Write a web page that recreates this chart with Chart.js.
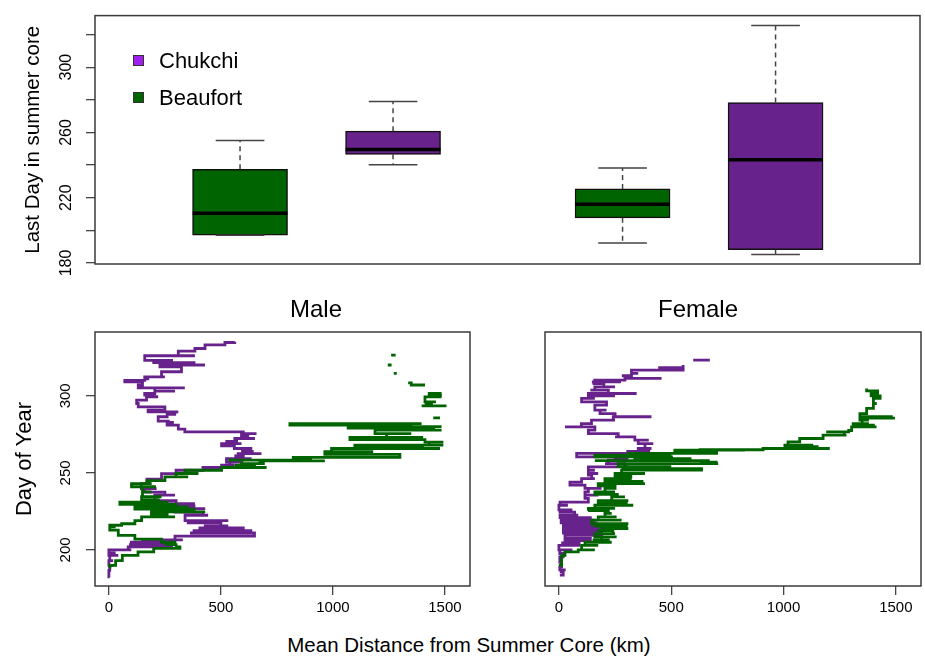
<!DOCTYPE html>
<html>
<head>
<meta charset="utf-8">
<script src="https://cdn.jsdelivr.net/npm/chart.js@4.4.1/dist/chart.umd.min.js"></script>
<style>
  html, body { margin: 0; padding: 0; background: #fff; }
  body { width: 925px; height: 659px; position: relative; overflow: hidden; font-family: "Liberation Sans", Arial, sans-serif; }
  .panel { position: absolute; }
  .lbl { position: absolute; color: #000; white-space: nowrap; line-height: 1; }
  .sq { position: absolute; width: 9px; height: 9px; border: 1px solid #333; }
</style>
</head>
<body>
<div class="panel" style="left:0;top:0;width:925px;height:290px"><canvas id="boxChart"></canvas></div>
<div class="panel" style="left:0;top:290px;width:480px;height:330px"><canvas id="maleChart"></canvas></div>
<div class="panel" style="left:480px;top:290px;width:445px;height:330px"><canvas id="femaleChart"></canvas></div>

<div class="sq" style="left:133px;top:55px;background:#A020F0"></div>
<div class="lbl" style="left:159px;top:50px;font-size:22px">Chukchi</div>
<div class="sq" style="left:133px;top:92px;background:#006400"></div>
<div class="lbl" style="left:159px;top:87px;font-size:22px">Beaufort</div>

<div class="lbl" style="left:216px;top:297px;width:200px;text-align:center;font-size:24px">Male</div>
<div class="lbl" style="left:598px;top:297px;width:200px;text-align:center;font-size:24px">Female</div>
<div class="lbl" style="left:219px;top:635px;width:500px;text-align:center;font-size:20.5px">Mean Distance from Summer Core (km)</div>

<script>
document.addEventListener('DOMContentLoaded', () => {
    Chart.defaults.font.family = '"Liberation Sans", Arial, sans-serif';
    Chart.defaults.color = '#000';

    const green = '#006400';
    const purple = '#68228B';

    // Top box plot: Male Beaufort, Male Chukchi, Female Beaufort, Female Chukchi
    const boxPositions = [1, 2, 3.5, 4.5];
    const boxColors = [green, purple, green, purple];
    const lowWhisker = [197, 240.2, 192.2, 185.2];
    const lowerQuartile = [197, 246.6, 207.7, 188.2];
    const medians = [210.5, 249.6, 216, 243.2];
    const upperQuartile = [237.4, 260.8, 225.4, 278.3];
    const highWhisker = [255, 279, 238.2, 325.5];
    const boxTicks = [180, 200, 220, 240, 260, 280, 300, 320];
    const boxTickLabels = ['180', '', '220', '', '260', '', '300', ''];

    // Bottom panels: rows of [day, distance from, distance to]; null = gap
    const maleChukchi = [
        [182.5, 4, 4], [186.8, 0, 10], [190, 4, 20], [193, 0, 19], [196.5, 4, 42], [198, 0, 30], [200, 0, 100],
        [202, 86, 280], [203.5, 280, 90], [205, 100, 270], [206.5, 150, 330], [209, 295, 533], [211, 650, 362],
        [212.5, 380, 640], [214.3, 600, 400], [215.6, 430, 533], [217.5, 500, 380], [219, 354, 533], [222.5, 340, 443],
        [224.5, 420, 300], [226.8, 295, 430], [228.5, 380, 230], [230, 220, 384], [232, 300, 200], [235.5, 205, 295],
        [237.5, 250, 165], [239.8, 160, 213], [243, 145, 190], [246, 170, 200], [249.5, 235, 280], [251.7, 300, 384],
        [253.5, 420, 480], [255, 503, 560], [257, 540, 600], [259.3, 525, 637], [261, 600, 560], [262.5, 577, 681],
        [264, 640, 590], [265.8, 600, 640], [267.5, 560, 520], [269, 503, 592], [270.5, 570, 520], [272.3, 562, 652],
        [274, 620, 600], [275.5, 592, 659], [276.6, 600, 384], [278.4, 339, 339], [281, 310, 310], [282.7, 260, 290],
        [283.6, 265, 265], [286.4, 220, 220], [288, 260, 300], [289.6, 295, 310], [290.7, 175, 175], [292.8, 250, 250],
        [295, 131, 131], [297.2, 124, 140], [299.4, 168, 220], [300.5, 200, 170], [301.5, 160, 200], [303, 205, 295],
        [305.2, 205, 339], [307, 131, 131], [309, 150, 150], [310, 71, 100], [311, 160, 180], [312.3, 160, 250],
        [315.6, 235, 235], [318.8, 324, 324], [320, 228, 429], [321.5, 380, 250], [322, 200, 280], [323, 280, 200],
        [326, 160, 384], [329, 310, 310], [330.7, 384, 384], [333, 429, 429], [334.6, 518, 518], [335, 562, 562]
    ];
    const maleBeaufort = [
        [188, 4, 4], [190, 4, 20], [193, 30, 50], [196.5, 60, 101], [198.7, 130, 175], [201, 200, 280], [202, 317, 317],
        [203.5, 300, 250], [205, 295, 295], [207, 235, 235], [209.5, 116, 116], [212.8, 42, 42], [215, 4, 30], [216, 4, 4],
        [217, 57, 57], [219, 116, 116], [221.5, 146, 295], [223, 260, 190], [224.7, 190, 430], [226.5, 380, 150],
        [228, 116, 354], [229.5, 300, 100], [231, 49, 265], [232.5, 220, 150], [234.5, 146, 235], [237.7, 150, 190],
        [241, 150, 210], [243, 101, 190], [245, 170, 250], [247.4, 250, 354], [249.6, 300, 400], [251.7, 340, 503],
        [253.5, 503, 704], [255, 650, 560], [256, 592, 696], [257.8, 674, 964], [258.3, 900, 533], [260, 823, 1024],
        [262, 1299, 972], [263.7, 964, 1180], [265.8, 994, 1478], [267, 1400, 1100], [268, 1098, 1493], [270, 1430, 1493],
        [271.6, 1411, 1240], [273, 1076, 1403], [275.5, 1240, 1350], [277.7, 1188, 1485], [279, 1450, 1100],
        [280, 1068, 1485], [281, 1350, 900], [282, 808, 1396],
        null,
        [285.7, 1448, 1478],
        null,
        [293.5, 1396, 1507], [294.5, 1440, 1410], [296, 1420, 1460], [299.3, 1411, 1485], [300.5, 1480, 1430], [301.5, 1430, 1485],
        null,
        [307, 1411, 1373], [308.4, 1350, 1336],
        null,
        [314.5, 1272, 1285],
        null,
        [320, 1245, 1262],
        null,
        [326.4, 1260, 1280]
    ];
    const femaleChukchi = [
        [183.6, 4, 4], [185.7, 19, 19], [187, 10, 30], [189, 4, 4], [192, 12, 12], [195.5, 4, 4], [197.7, 19, 30],
        [200, 4, 60], [203, 0, 86], [204.5, 90, 10], [206, 27, 130], [207.5, 140, 30], [209.5, 27, 197], [211, 190, 25],
        [212.8, 20, 190], [214.5, 185, 20], [216, 20, 175], [217.5, 165, 15], [219.3, 10, 160], [221, 140, 5],
        [222.5, 5, 86], [224.5, 70, 5], [226, 5, 60], [229, 0, 40], [231, 5, 131], [233.4, 131, 131], [235.5, 116, 175],
        [237.7, 116, 116], [240, 131, 190], [242, 116, 71], [244, 49, 49], [246.3, 101, 160], [248.5, 146, 146],
        [249.6, 131, 175], [251.7, 131, 160], [253.9, 131, 309], [256, 294, 205], [258.3, 220, 290], [259.3, 260, 309],
        [260.4, 250, 100], [262.6, 79, 412], [264, 400, 300], [265.8, 353, 412], [269, 383, 420], [271.2, 353, 400],
        [273.4, 338, 250], [275.5, 264, 131], [277.7, 131, 160], [279.9, 160, 27], [282, 100, 145], [284.2, 145, 250],
        [286.4, 242, 412], [288.5, 250, 190], [290.7, 183, 212], [294, 160, 200], [296.1, 212, 116], [298.3, 101, 160],
        [300, 150, 250], [301.5, 131, 346], [303.7, 220, 140], [305.8, 160, 250], [308, 200, 150], [309, 153, 264],
        [310.2, 270, 153], [311.3, 294, 457], [313, 300, 280], [314.5, 323, 353], [316.7, 323, 546], [318.2, 553, 442],
        [320, 553, 553],
        null,
        [323.2, 598, 672]
    ];
    const femaleBeaufort = [
        [190, 0, 12], [193, 12, 12], [196.5, 12, 27], [198.8, 27, 86], [200, 86, 160], [203, 101, 175], [205, 116, 235],
        [206.5, 220, 150], [208.5, 190, 257], [210.6, 160, 250], [212.5, 240, 170], [213.9, 190, 309], [215.5, 300, 160],
        [217, 160, 309], [219.3, 146, 279], [221.5, 175, 257], [223.7, 205, 235], [225.5, 220, 130], [226.9, 131, 250],
        [229, 160, 331], [230.5, 300, 175], [232, 175, 309], [234.4, 235, 294], [236, 260, 200], [237.7, 160, 250],
        [240, 205, 250], [241.5, 250, 175], [243, 175, 383], [244.5, 370, 220], [246.3, 205, 324], [248, 320, 250],
        [249.6, 250, 383], [251.8, 279, 605], [252.8, 635, 279], [254, 300, 500], [256, 264, 709], [257, 700, 628],
        [258, 665, 160], [259.3, 338, 590], [260.4, 501, 160], [261.5, 160, 501], [262.6, 309, 694], [263.6, 702, 628],
        [264.7, 516, 828], [265, 628, 909], [265.8, 909, 1206], [267, 1150, 1006], [268, 1006, 1132], [270.1, 1020, 1060],
        [272.3, 1072, 1176], [274.5, 1176, 1280], [276.6, 1270, 1190], [277.5, 1290, 1300], [279.9, 1303, 1414],
        [281, 1400, 1330], [282, 1310, 1380], [284.2, 1350, 1380], [285.5, 1340, 1496], [286.4, 1480, 1340],
        [288.5, 1340, 1370], [291.8, 1370, 1400], [295, 1400, 1415], [298.3, 1400, 1436], [300, 1430, 1410],
        [301.5, 1390, 1425], [303.2, 1400, 1425], [304.7, 1370, 1370]
    ];
    const distTicks = [0, 500, 1000, 1500];
    const dayTicks = [200, 250, 300];

    // box around every plot area, like R's box()
    const framePlugin = {
        id: 'frame',
        afterDraw(chart) {
            const {ctx, chartArea: a} = chart;
            ctx.save();
            ctx.strokeStyle = '#3a3a3a';
            ctx.lineWidth = 1.5;
            ctx.strokeRect(a.left, a.top, a.right - a.left, a.bottom - a.top);
            ctx.restore();
        }
    };

    const gridStyle = { drawOnChartArea: false, drawTicks: true, tickLength: 9, color: '#444', lineWidth: 1.3 };

    // ---- top: box plot ----
    const halfBox = 0.31, halfCap = 0.159;
    const dashed = [], caps = [], medianLines = [];
    boxPositions.forEach((p, i) => {
        dashed.push({x: p, y: upperQuartile[i]}, {x: p, y: highWhisker[i]}, {x: null, y: null});
        dashed.push({x: p, y: lowerQuartile[i]}, {x: p, y: lowWhisker[i]}, {x: null, y: null});
        caps.push({x: p - halfCap, y: highWhisker[i]}, {x: p + halfCap, y: highWhisker[i]}, {x: null, y: null});
        caps.push({x: p - halfCap, y: lowWhisker[i]}, {x: p + halfCap, y: lowWhisker[i]}, {x: null, y: null});
        medianLines.push({x: p - halfBox, y: medians[i]}, {x: p + halfBox, y: medians[i]}, {x: null, y: null});
    });

    new Chart(document.getElementById('boxChart'), {
        type: 'bar',
        data: {
            datasets: [
                {
                    type: 'bar', order: 3,
                    data: boxPositions.map((p, i) => ({x: p, y: [lowerQuartile[i], upperQuartile[i]]})),
                    backgroundColor: boxColors, borderColor: '#111', borderWidth: 1.5,
                    borderSkipped: false, barThickness: 95
                },
                { type: 'line', order: 2, data: dashed, borderColor: '#444', borderWidth: 1.5, borderDash: [5, 4], pointRadius: 0, spanGaps: false },
                { type: 'line', order: 1, data: caps, borderColor: '#444', borderWidth: 1.5, pointRadius: 0, spanGaps: false },
                { type: 'line', order: 0, data: medianLines, borderColor: '#000', borderWidth: 3.5, pointRadius: 0, spanGaps: false }
            ]
        },
        options: {
            responsive: true, maintainAspectRatio: false, animation: false,
            layout: { padding: { left: 0, top: 10, right: 5, bottom: 26 } },
            plugins: { legend: { display: false }, tooltip: { enabled: false } },
            scales: {
                x: { type: 'linear', min: 0.052, max: 5.444, offset: false, display: false },
                y: {
                    min: 179.4, max: 331.6,
                    afterBuildTicks: s => { s.ticks = boxTicks.map(v => ({value: v})); },
                    afterFit: s => { s.width = 95; },
                    ticks: {
                        autoSkip: false, minRotation: 90, maxRotation: 90, crossAlign: 'center', padding: 6,
                        font: { size: 16 }, color: '#000',
                        callback: (v, i) => boxTickLabels[i]
                    },
                    grid: gridStyle,
                    border: { display: false },
                    title: { display: true, text: 'Last Day in summer core', font: { size: 20.5 }, color: '#000', padding: { top: 20.7, bottom: 0 } }
                }
            }
        },
        plugins: [framePlugin]
    });

    // ---- bottom: distance tracks ----
    function toPath(rows) {
        const pts = [];
        rows.forEach(r => {
            if (r === null) { pts.push({x: null, y: null}); return; }
            pts.push({x: r[1], y: r[0]});
            pts.push({x: r[2], y: r[0]});
        });
        return pts;
    }

    function trackChart(id, beaufort, chukchi, showY, padLeft, padRight) {
        const lineStyle = { borderWidth: 2.8, pointRadius: 0, spanGaps: false, stepped: 'before', borderJoinStyle: 'miter' };
        return new Chart(document.getElementById(id), {
            type: 'line',
            data: {
                datasets: [
                    Object.assign({ data: toPath(beaufort), borderColor: green }, lineStyle),
                    Object.assign({ data: toPath(chukchi), borderColor: purple }, lineStyle)
                ]
            },
            options: {
                responsive: true, maintainAspectRatio: false, animation: false,
                layout: { padding: { left: padLeft, top: 42, right: padRight, bottom: 0 } },
                plugins: { legend: { display: false }, tooltip: { enabled: false } },
                scales: {
                    x: {
                        type: 'linear', min: -62, max: 1612,
                        afterBuildTicks: s => { s.ticks = distTicks.map(v => ({value: v})); },
                        afterFit: s => { s.height = 34; },
                        ticks: { autoSkip: false, maxRotation: 0, padding: 4, font: { size: 15 }, color: '#000', callback: v => String(v) },
                        grid: gridStyle,
                        border: { display: false }
                    },
                    y: {
                        type: 'linear', min: 176.6, max: 341.4, display: showY,
                        afterBuildTicks: s => { s.ticks = dayTicks.map(v => ({value: v})); },
                        afterFit: s => { s.width = showY ? 95 : 0; },
                        ticks: { autoSkip: false, minRotation: 90, maxRotation: 90, crossAlign: 'center', padding: 7.5, font: { size: 15 }, color: '#000', callback: v => String(v) },
                        grid: gridStyle,
                        border: { display: false },
                        title: { display: true, text: 'Day of Year', font: { size: 22 }, color: '#000', padding: { top: 11.8, bottom: 0 } }
                    }
                }
            },
            plugins: [framePlugin]
        });
    }

    trackChart('maleChart', maleBeaufort, maleChukchi, true, 0, 10);
    trackChart('femaleChart', femaleBeaufort, femaleChukchi, false, 65, 4);
});
</script>
</body>
</html>
